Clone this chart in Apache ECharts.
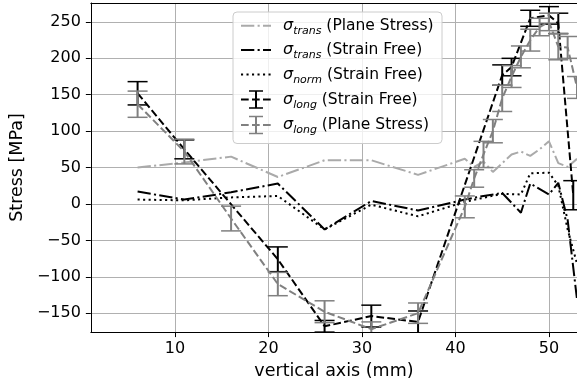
<!DOCTYPE html>
<html>
<head>
<meta charset="utf-8">
<script src="https://cdn.jsdelivr.net/npm/echarts@6/dist/echarts.min.js"></script>
<style>html,body{margin:0;padding:0;background:#fff}#c{width:577px;height:385px}</style>
</head>
<body>
<div id="c"></div>
<script>
// ---- data ----
const xTicks = [10, 20, 30, 40, 50];
const yTicks = [-150, -100, -50, 0, 50, 100, 150, 200, 250];

const transPS_x = [6, 11, 16, 21, 26, 31, 36, 41, 42, 43, 44, 45, 46, 47, 48, 49, 50, 51, 52, 53];
const transPS_y = [50, 57, 65, 37, 60, 60, 40, 62, 51, 58, 44, 56, 68, 72, 66, 75, 86, 56, 51, 62];

const transSF_x = [6, 11, 16, 21, 26, 31, 36, 41, 43, 45, 47, 48, 50, 51, 52, 53];
const transSF_y = [17, 6, 16, 28, -35, 4, -9, 6, 11, 15, -12, 28, 13, 29, -22, -131];

const normSF_x = [6, 11, 16, 21, 26, 31, 36, 41, 45, 47, 48, 50, 51, 52, 53];
const normSF_y = [6, 5, 9, 11, -35, -1, -17, 3, 14, 13, 42, 43, 25, -35, -82];

const longSF_x = [6, 11, 21, 26, 31, 36, 45, 46, 48, 50, 51, 52.6];
const longSF_y = [152, 75, -76, -168, -154, -162, 177, 188, 255, 259, 248, 12];
const longSF_e = [16, 13, 17, 8, 15, 15, 14, 12, 11, 12, 14, 20];

const longPS_x = [6, 11, 16, 21, 26, 31, 36, 41, 42, 43, 44, 45, 46, 47, 48, 49, 50, 51, 52, 53];
const longPS_y = [137, 72, -20, -110, -148, -172, -150, -4, 35, 68, 100, 145, 175, 202, 225, 243, 250, 216, 215, 160];
const longPS_e = [18, 17, 17, 16, 15, 10, 14, 15, 12, 18, 16, 18, 15, 15, 15, 12, 12, 18, 15, 15];

// ---- styles ----
const FONT = 'DejaVu Sans';
const C_BLACK = '#000000';
const C_GRAY = '#808080';
const C_LIGHT = '#aaaaaa';
const LW = 2;
const DASHED = [7.7, 3.3];
const DASHDOT = [13.3, 3.3, 2.1, 3.3];
const DOTTED = [2.1, 3.4];

function zip(xs, ys, es) {
  return xs.map((x, i) => es ? [x, ys[i], es[i]] : [x, ys[i]]);
}
function minusFmt(v) { return v < 0 ? '\u2212' + Math.abs(v) : String(v); }

function errRender(color) {
  return function (params, api) {
    const x = api.value(0), y = api.value(1), e = api.value(2);
    const t = api.coord([x, y + e]);
    const b = api.coord([x, y - e]);
    const hw = 10;
    return {
      type: 'group',
      children: [
        { type: 'line', shape: { x1: t[0], y1: t[1], x2: b[0], y2: b[1] }, style: { stroke: color, lineWidth: 2 } },
        { type: 'line', shape: { x1: t[0] - hw, y1: t[1], x2: t[0] + hw, y2: t[1] }, style: { stroke: color, lineWidth: 1.5 } },
        { type: 'line', shape: { x1: b[0] - hw, y1: b[1], x2: b[0] + hw, y2: b[1] }, style: { stroke: color, lineWidth: 1.5 } }
      ]
    };
  };
}

function lineSeries(name, xs, ys, color, dash, z) {
  return {
    name: name, type: 'line', data: zip(xs, ys), showSymbol: false, symbol: 'none',
    lineStyle: { color: color, width: LW, type: dash }, itemStyle: { color: color },
    clip: true, z: z, animation: false, silent: true
  };
}
function errSeries(name, xs, ys, es, color, z) {
  return {
    name: name + ' err', type: 'custom', data: zip(xs, ys, es), renderItem: errRender(color),
    clip: true, z: z, animation: false, silent: true,
    encode: { x: 0, y: [1, 2] }
  };
}

// ---- legend (graphic) ----
const LX0 = 241, LX1 = 271, LTX = 283;
const rows = [25.7, 50, 74.5, 99.5, 125];
function legLine(y, color, dash) {
  return { type: 'line', shape: { x1: LX0, y1: y, x2: LX1, y2: y }, style: { stroke: color, lineWidth: LW, lineDash: dash } };
}
function legErr(y, color) {
  const cx = (LX0 + LX1) / 2, h = 8.5, hw = 7;
  return [
    { type: 'line', shape: { x1: cx, y1: y - h, x2: cx, y2: y + h }, style: { stroke: color, lineWidth: 2 } },
    { type: 'line', shape: { x1: cx - hw, y1: y - h, x2: cx + hw, y2: y - h }, style: { stroke: color, lineWidth: 1.5 } },
    { type: 'line', shape: { x1: cx - hw, y1: y + h, x2: cx + hw, y2: y + h }, style: { stroke: color, lineWidth: 1.5 } }
  ];
}
const rich = {
  s: { fontFamily: FONT, fontSize: 16, fontStyle: 'italic', color: '#000', verticalAlign: 'middle', lineHeight: 22 },
  b: { fontFamily: FONT, fontSize: 11, fontStyle: 'italic', color: '#000', verticalAlign: 'bottom', lineHeight: 22 },
  t: { fontFamily: FONT, fontSize: 15.5, color: '#000', verticalAlign: 'middle', lineHeight: 22 }
};
function legText(y, sub, rest) {
  return {
    type: 'text', x: LTX, y: y,
    style: { text: '{s|\u03c3}{b|' + sub + '}{t| ' + rest + '}', rich: rich, verticalAlign: 'middle', align: 'left' }
  };
}
const legendGraphic = [
  { type: 'rect', shape: { x: 233, y: 12, width: 209, height: 131.5, r: 4 }, style: { fill: 'rgba(255,255,255,0.8)', stroke: '#cccccc', lineWidth: 1 } },
  legLine(rows[0], C_LIGHT, DASHDOT),
  legLine(rows[1], C_BLACK, DASHDOT),
  legLine(rows[2], C_BLACK, DOTTED),
  legLine(rows[3], C_BLACK, DASHED),
  ...legErr(rows[3], C_BLACK),
  legLine(rows[4], C_GRAY, DASHED),
  ...legErr(rows[4], C_GRAY),
  legText(rows[0], 'trans', '(Plane Stress)'),
  legText(rows[1], 'trans', '(Strain Free)'),
  legText(rows[2], 'norm', '(Strain Free)'),
  legText(rows[3], 'long', '(Strain Free)'),
  legText(rows[4], 'long', '(Plane Stress)')
].map((g, i) => Object.assign({ z: 100 + i }, g));

const chart = echarts.init(document.getElementById('c'), null, { renderer: 'canvas' });
chart.setOption({
  animation: false,
  backgroundColor: '#ffffff',
  grid: { left: 90, right: 0, top: 3, bottom: 52 },
  xAxis: [{
    type: 'value', min: 1, max: 53,
    name: 'vertical axis (mm)', nameLocation: 'middle', nameGap: 26,
    nameTextStyle: { fontFamily: FONT, fontSize: 17.5, color: '#000' },
    axisLine: { show: true, onZero: false, lineStyle: { color: '#000', width: 1 } },
    axisTick: { show: true, customValues: xTicks, length: 5, lineStyle: { color: '#000', width: 1 } },
    axisLabel: { customValues: xTicks, fontFamily: FONT, fontSize: 16, color: '#000', margin: 9, formatter: minusFmt },
    splitLine: { show: true, lineStyle: { color: '#b0b0b0', width: 1 } }
  }, {
    type: 'value', position: 'top', min: 1, max: 53,
    axisLine: { show: true, onZero: false, lineStyle: { color: '#000', width: 1 } },
    axisTick: { show: false }, axisLabel: { show: false }, splitLine: { show: false }
  }],
  yAxis: {
    type: 'value', min: -176, max: 276,
    name: 'Stress [MPa]', nameLocation: 'middle', nameGap: 61,
    nameTextStyle: { fontFamily: FONT, fontSize: 17.5, color: '#000' },
    axisLine: { show: true, onZero: false, lineStyle: { color: '#000', width: 1 } },
    axisTick: { show: true, customValues: yTicks, length: 5, lineStyle: { color: '#000', width: 1 } },
    axisLabel: { customValues: yTicks, fontFamily: FONT, fontSize: 16, color: '#000', margin: 10, formatter: minusFmt },
    splitLine: { show: true, lineStyle: { color: '#b0b0b0', width: 1 } }
  },
  series: [
    lineSeries('trans PS', transPS_x, transPS_y, C_LIGHT, DASHDOT, 2),
    lineSeries('trans SF', transSF_x, transSF_y, C_BLACK, DASHDOT, 3),
    lineSeries('norm SF', normSF_x, normSF_y, C_BLACK, DOTTED, 4),
    lineSeries('long SF', longSF_x, longSF_y, C_BLACK, DASHED, 5),
    errSeries('long SF', longSF_x, longSF_y, longSF_e, C_BLACK, 5),
    lineSeries('long PS', longPS_x, longPS_y, C_GRAY, DASHED, 6),
    errSeries('long PS', longPS_x, longPS_y, longPS_e, C_GRAY, 6)
  ],
  graphic: legendGraphic
});
</script>
</body>
</html>
